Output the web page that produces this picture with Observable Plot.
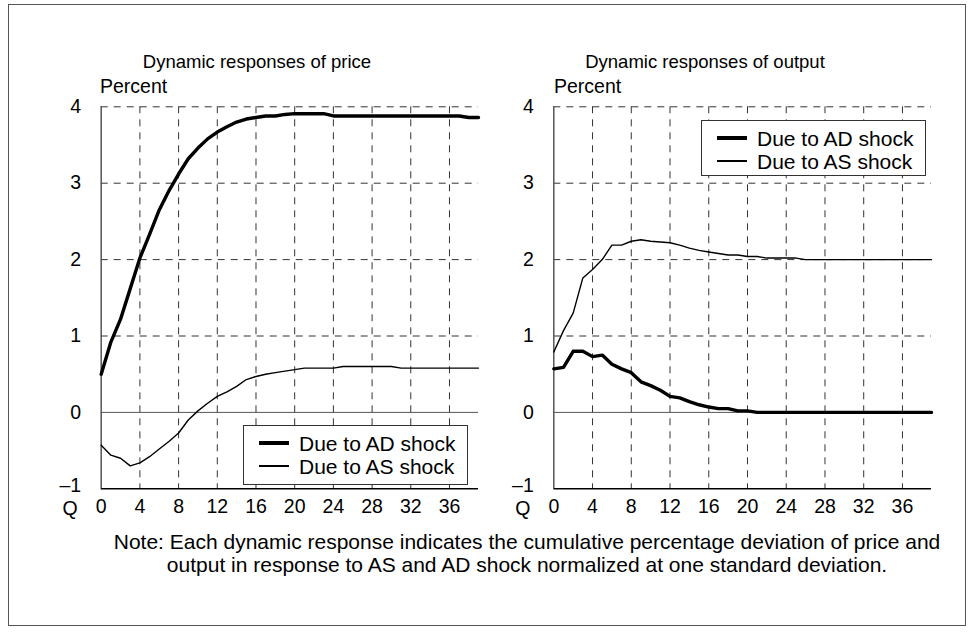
<!DOCTYPE html>
<html><head><meta charset="utf-8">
<script src="https://cdn.jsdelivr.net/npm/d3@7"></script>
<script src="https://cdn.jsdelivr.net/npm/@observablehq/plot@0.6"></script>
<style>
body{margin:0;background:#fff;font-family:"Liberation Sans",Arial,Helvetica,sans-serif;color:#000;}
#page{position:relative;width:974px;height:632px;overflow:hidden;background:#fff;}
.frame{position:absolute;left:8px;top:4px;width:958px;height:622px;border:1.5px solid #555;box-sizing:border-box;}
.t{position:absolute;font-size:21px;line-height:21px;white-space:nowrap;}
.title{font-size:18.5px;line-height:20px;}
.panel{position:absolute;top:0;}
.legend{position:absolute;background:#fff;border:1.2px solid #333;box-sizing:border-box;}
.legend .s{position:absolute;background:#000;}
.legend .lt{position:absolute;font-size:21px;line-height:21px;white-space:nowrap;}
.note{position:absolute;left:0;width:1054px;text-align:center;font-size:21px;line-height:23px;}
</style>
</head><body>
<div id="page">
  <div class="frame"></div>
  <div class="t title" id="t1" style="left:57px;width:400px;text-align:center;top:52px;"></div>
  <div class="t title" id="t2" style="left:505px;width:400px;text-align:center;top:52px;"></div>
  <div class="t" id="p1" style="left:100px;top:76px;font-size:19.5px;"></div>
  <div class="t" id="p2" style="left:554px;top:76px;font-size:19.5px;"></div>
  <div class="panel" id="left" style="left:0px;"></div>
  <div class="panel" id="right" style="left:487px;"></div>
  <div class="note" id="note" style="top:530px;"></div>
</div>
<script>
// ---- data ----
const titles = ["Dynamic responses of price", "Dynamic responses of output"];
const unitLabel = "Percent";
const seriesNames = ["Due to AD shock", "Due to AS shock"];
const noteLines = [
  "Note: Each dynamic response indicates the cumulative percentage deviation of price and",
  "output in response to AS and AD shock normalized at one standard deviation."
];
const quarters = [0,1,2,3,4,5,6,7,8,9,10,11,12,13,14,15,16,17,18,19,20,21,22,23,24,25,26,27,28,29,30,31,32,33,34,35,36,37,38,39];
const xTicks = [0,4,8,12,16,20,24,28,32,36];
const yTicksUpper = [0,1,2,3,4];
const yTickBottom = [-1];
const priceAD = [0.50,0.92,1.22,1.62,2.02,2.33,2.65,2.90,3.12,3.32,3.46,3.58,3.67,3.74,3.80,3.84,3.86,3.88,3.88,3.90,3.91,3.91,3.91,3.91,3.88,3.88,3.88,3.88,3.88,3.88,3.88,3.88,3.88,3.88,3.88,3.88,3.88,3.88,3.86,3.86];
const priceAS = [-0.43,-0.56,-0.60,-0.70,-0.66,-0.58,-0.48,-0.38,-0.27,-0.10,0.02,0.12,0.21,0.27,0.34,0.43,0.47,0.50,0.52,0.54,0.56,0.58,0.58,0.58,0.58,0.60,0.60,0.60,0.60,0.60,0.60,0.58,0.58,0.58,0.58,0.58,0.58,0.58,0.58,0.58];
const outputAD = [0.57,0.59,0.80,0.80,0.73,0.75,0.63,0.57,0.52,0.40,0.35,0.29,0.21,0.19,0.14,0.10,0.07,0.05,0.05,0.02,0.02,0.00,0.00,0.00,0.00,0.00,0.00,0.00,0.00,0.00,0.00,0.00,0.00,0.00,0.00,0.00,0.00,0.00,0.00,0.00];
const outputAS = [0.79,1.07,1.30,1.76,1.87,2.00,2.19,2.19,2.24,2.26,2.24,2.23,2.22,2.19,2.15,2.12,2.10,2.08,2.06,2.06,2.04,2.04,2.02,2.02,2.02,2.02,2.00,2.00,2.00,2.00,2.00,2.00,2.00,2.00,2.00,2.00,2.00,2.00,2.00,2.00];

// ---- text ----
document.getElementById("t1").textContent = titles[0];
document.getElementById("t2").textContent = titles[1];
document.getElementById("p1").textContent = unitLabel;
document.getElementById("p2").textContent = unitLabel;
document.getElementById("note").innerHTML = noteLines.map(s => `<div>${s}</div>`).join("");

const FONT = '"Liberation Sans", Arial, Helvetica, sans-serif';
const fmt = d => d < 0 ? "\u2013" + Math.abs(d) : String(d);

function panel(ad, as, width, ml, mr) {
  const rows = vals => quarters.map((q, i) => ({q, v: vals[i]}));
  const H = 530;
  return Plot.plot({
    width, height: H,
    marginLeft: ml, marginRight: mr, marginTop: 106.3, marginBottom: H - 488.3,
    style: {fontFamily: FONT, fontSize: "19.5px", color: "#000", background: "transparent", overflow: "visible"},
    x: {domain: [0, 39]},
    y: {domain: [-1, 4]},
    marks: [
      Plot.gridX({ticks: xTicks.slice(1), stroke: "#333", strokeOpacity: 1, strokeWidth: 1, strokeDasharray: "7,6"}),
      Plot.gridY({ticks: [1,2,3,4], stroke: "#333", strokeOpacity: 1, strokeWidth: 1, strokeDasharray: "7,6"}),
      Plot.ruleY([0], {stroke: "#555", strokeWidth: 1}),
      Plot.ruleY([-1], {stroke: "#000", strokeWidth: 1.5}),
      Plot.ruleX([0], {stroke: "#555", strokeWidth: 1.5}),
      Plot.axisY({ticks: yTicksUpper, tickSize: 0, tickPadding: 20, tickFormat: fmt, label: null, fontSize: 19.5}),
      Plot.axisY({ticks: yTickBottom, tickSize: 0, tickPadding: 20, tickFormat: fmt, label: null, fontSize: 19.5, dy: -3}),
      Plot.axisX({ticks: xTicks, tickSize: 0, tickPadding: 10.5, tickFormat: d => String(d), label: null, fontSize: 19.5}),
      Plot.text(["Q"], {x: () => 0, y: () => -1, text: d => d, dx: -31, dy: 20, fontSize: 19.5}),
      Plot.line(rows(as), {x: "q", y: "v", stroke: "#000", strokeWidth: 1.4}),
      Plot.line(rows(ad), {x: "q", y: "v", stroke: "#000", strokeWidth: 3.4})
    ]
  });
}

document.getElementById("left").append(panel(priceAD, priceAS, 487, 100.7, 9));
document.getElementById("right").append(panel(outputAD, outputAS, 487, 66.3, 43));

function legend(left, top, h) {
  const box = document.createElement("div");
  box.className = "legend";
  Object.assign(box.style, {left: left + "px", top: top + "px", width: "225px", height: h + "px"});
  const rowsY = [17, 40];
  const widths = [3.4, 1.4];
  seriesNames.forEach((name, i) => {
    const s = document.createElement("div");
    s.className = "s";
    Object.assign(s.style, {left: "15px", width: "30px", top: (rowsY[i] - widths[i] / 2) + "px", height: widths[i] + "px"});
    box.append(s);
    const t = document.createElement("div");
    t.className = "lt";
    t.textContent = name;
    Object.assign(t.style, {left: "55px", top: (rowsY[i] - 10.5) + "px"});
    box.append(t);
  });
  document.getElementById("page").append(box);
}
legend(243, 425, 60);
legend(701, 120, 56);
</script>
</body></html>
